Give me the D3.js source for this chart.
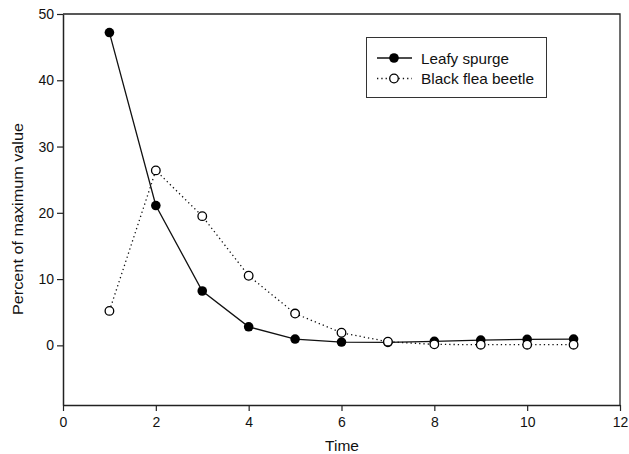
<!DOCTYPE html>
<html>
<head>
<meta charset="utf-8">
<script src="https://cdn.jsdelivr.net/npm/d3@7"></script>
<style>
  body { margin: 0; background: #fff; }
  svg { font-family: "Liberation Sans", Arial, sans-serif; }
</style>
</head>
<body>
<svg id="chart"></svg>
<script>
const times = [1, 2, 3, 4, 5, 6, 7, 8, 9, 10, 11];
const leafySpurge = [47.2, 21.1, 8.2, 2.8, 0.95, 0.5, 0.45, 0.6, 0.8, 0.9, 0.95];
const fleaBeetle = [5.2, 26.4, 19.5, 10.5, 4.8, 1.9, 0.55, 0.15, 0.1, 0.1, 0.1];
const xTicks = [0, 2, 4, 6, 8, 10, 12];
const yTicks = [0, 10, 20, 30, 40, 50];

const width = 629, height = 454;
const margin = { top: 14, right: 9, bottom: 49, left: 63 };

const svg = d3.select('#chart')
  .attr('width', width)
  .attr('height', height);

const x = d3.scaleLinear().domain([0, 12]).range([margin.left, width - margin.right]);
const y = d3.scaleLinear().domain([-9, 50]).range([height - margin.bottom, margin.top]);

// frame (top and right)
svg.append('path')
  .attr('d', `M${x(0)},${y(50)}H${x(12)}V${y(-9)}`)
  .attr('fill', 'none')
  .attr('stroke', '#222')
  .attr('stroke-width', 1.3);

const xAxis = svg.append('g')
  .attr('transform', `translate(0,${y(-9)})`)
  .call(d3.axisBottom(x).tickValues(xTicks).tickSize(6).tickPadding(6).tickSizeOuter(0));

const yAxis = svg.append('g')
  .attr('transform', `translate(${x(0)},0)`)
  .call(d3.axisLeft(y).tickValues(yTicks).tickSize(6).tickPadding(3).tickSizeOuter(0));

[xAxis, yAxis].forEach(g => {
  g.select('.domain').attr('stroke', '#222').attr('stroke-width', 1.5);
  g.selectAll('.tick line').attr('stroke', '#222').attr('stroke-width', 1.2);
  g.selectAll('.tick text')
    .style('font-size', '14px')
    .style('font-family', '"Liberation Sans", Arial, sans-serif')
    .attr('fill', '#111');
});

// axis titles
svg.append('text')
  .attr('x', 342)
  .attr('y', 451)
  .attr('text-anchor', 'middle')
  .style('font-size', '15.5px')
  .attr('fill', '#111')
  .text('Time');

svg.append('text')
  .attr('transform', 'translate(23,219) rotate(-90)')
  .attr('text-anchor', 'middle')
  .style('font-size', '15px')
  .attr('fill', '#111')
  .attr('textLength', 192)
  .attr('lengthAdjust', 'spacingAndGlyphs')
  .text('Percent of maximum value');

const line = d3.line()
  .x((d, i) => x(times[i]))
  .y(d => y(d));

// black flea beetle (dotted, open circles)
svg.append('path')
  .datum(fleaBeetle)
  .attr('d', line)
  .attr('fill', 'none')
  .attr('stroke', '#111')
  .attr('stroke-width', 1.3)
  .attr('stroke-dasharray', '1.3,3');

// leafy spurge (solid, filled circles)
svg.append('path')
  .datum(leafySpurge)
  .attr('d', line)
  .attr('fill', 'none')
  .attr('stroke', '#111')
  .attr('stroke-width', 1.3);

svg.selectAll('.spurge')
  .data(leafySpurge)
  .enter()
  .append('circle')
  .attr('class', 'spurge')
  .attr('cx', (d, i) => x(times[i]))
  .attr('cy', d => y(d))
  .attr('r', 4.8)
  .attr('fill', '#000');

svg.selectAll('.beetle')
  .data(fleaBeetle)
  .enter()
  .append('circle')
  .attr('class', 'beetle')
  .attr('cx', (d, i) => x(times[i]))
  .attr('cy', d => y(d))
  .attr('r', 4.3)
  .attr('fill', '#fff')
  .attr('stroke', '#000')
  .attr('stroke-width', 1.3);

// legend
const legend = svg.append('g');
legend.append('rect')
  .attr('x', 366.5).attr('y', 37.5)
  .attr('width', 180).attr('height', 60)
  .attr('fill', '#fff')
  .attr('stroke', '#333')
  .attr('stroke-width', 1);

const items = [
  { name: 'Leafy spurge', dash: null, fill: '#000', r: 4.8, len: 88 },
  { name: 'Black flea beetle', dash: '1.3,3', fill: '#fff', r: 4.3, len: 113 }
];
items.forEach((it, i) => {
  const cy = 58 + i * 20.5;
  legend.append('line')
    .attr('x1', 377).attr('x2', 412)
    .attr('y1', cy).attr('y2', cy)
    .attr('stroke', '#111')
    .attr('stroke-width', 1.3)
    .attr('stroke-dasharray', it.dash);
  legend.append('circle')
    .attr('cx', 394).attr('cy', cy)
    .attr('r', it.r)
    .attr('fill', it.fill)
    .attr('stroke', '#000')
    .attr('stroke-width', it.fill === '#000' ? 0 : 1.3);
  legend.append('text')
    .attr('x', 421).attr('y', cy + 5.5)
    .style('font-size', '15px')
    .attr('fill', '#111')
    .attr('textLength', it.len)
    .attr('lengthAdjust', 'spacingAndGlyphs')
    .text(it.name);
});
</script>
</body>
</html>
